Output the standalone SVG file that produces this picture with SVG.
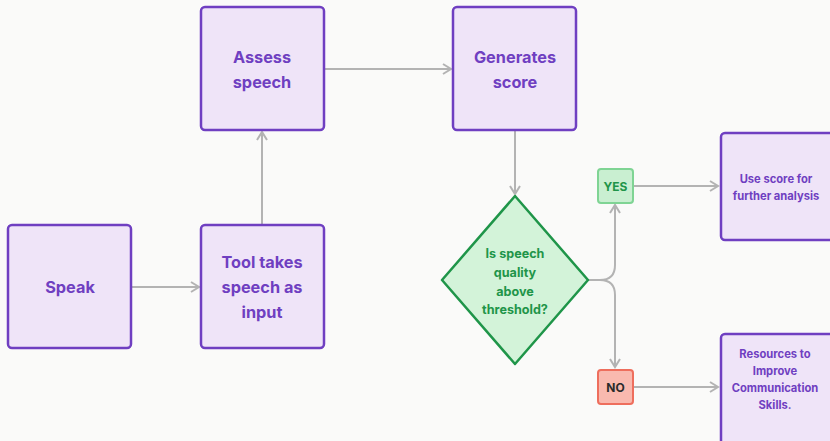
<svg xmlns="http://www.w3.org/2000/svg" width="830" height="441" viewBox="0 0 830 441">
<defs>
<style>
.box{fill:#efe4f8;stroke:#6f3fc1;stroke-width:2.5}
.bt{font-family:Inter,"Liberation Sans",sans-serif;font-weight:700;fill:#6f3fc1;text-anchor:middle;dominant-baseline:central}
.big{font-size:16.3px}
.sm{font-size:11.2px}
.conn{fill:none;stroke:#b3b3b3;stroke-width:2}
.dt{font-family:Inter,"Liberation Sans",sans-serif;font-weight:700;font-size:12.6px;fill:#1f9549;text-anchor:middle;dominant-baseline:central}
.tag{font-family:Inter,"Liberation Sans",sans-serif;font-weight:700;font-size:12px;text-anchor:middle;dominant-baseline:central}
</style>
<marker id="arr" viewBox="0 0 12 12" refX="10" refY="6" markerWidth="12" markerHeight="12" markerUnits="userSpaceOnUse" orient="auto">
<path d="M2,1 L10,6 L2,11" fill="none" stroke="#b3b3b3" stroke-width="2"/>
</marker>
</defs>
<rect width="830" height="441" fill="#fafaf9"/>
<g id="connectors">
<path class="conn" d="M132,287 H199" marker-end="url(#arr)"/>
<path class="conn" d="M262,224 V132" marker-end="url(#arr)"/>
<path class="conn" d="M325,69 H451" marker-end="url(#arr)"/>
<path class="conn" d="M515,131 V194" marker-end="url(#arr)"/>
<path class="conn" d="M588,280 H600 Q615,280 615,265 V205" marker-end="url(#arr)"/>
<path class="conn" d="M588,280 H600 Q615,280 615,295 V367" marker-end="url(#arr)"/>
<path class="conn" d="M634,186 H718" marker-end="url(#arr)"/>
<path class="conn" d="M634,387 H718" marker-end="url(#arr)"/>
</g>
<g id="speak">
<rect class="box" x="8" y="225" width="123" height="123" rx="4"/>
<text class="bt big" x="70" y="287">Speak</text>
</g>
<g id="tool">
<rect class="box" x="201" y="225" width="123" height="123" rx="4"/>
<text class="bt big" x="262" y="262">Tool takes</text>
<text class="bt big" x="262" y="287">speech as</text>
<text class="bt big" x="262" y="312">input</text>
</g>
<g id="assess">
<rect class="box" x="201" y="7" width="123" height="123" rx="4"/>
<text class="bt big" x="262" y="57">Assess</text>
<text class="bt big" x="262" y="82">speech</text>
</g>
<g id="generates">
<rect class="box" x="453" y="7" width="123" height="123" rx="4"/>
<text class="bt big" x="515" y="57">Generates</text>
<text class="bt big" x="515" y="82">score</text>
</g>
<g id="decision">
<path d="M515,196 L588,280 L515,364 L442,280 Z" fill="#d3f3d9" stroke="#1f9549" stroke-width="2.5" stroke-linejoin="round"/>
<text class="dt" x="515" y="253">Is speech</text>
<text class="dt" x="515" y="272">quality</text>
<text class="dt" x="515" y="291">above</text>
<text class="dt" x="515" y="309">threshold?</text>
</g>
<g id="yes">
<rect x="598" y="169" width="35" height="34" rx="3" fill="#c9efd1" stroke="#7fd494" stroke-width="2"/>
<text class="tag" x="615.5" y="186" fill="#1f9549">YES</text>
</g>
<g id="no">
<rect x="598" y="370" width="35" height="34" rx="3" fill="#f9b9af" stroke="#ee6e5d" stroke-width="2"/>
<text class="tag" x="615.5" y="387" fill="#2b2b2b">NO</text>
</g>
<g id="use-score">
<rect class="box" x="721" y="133" width="125" height="107" rx="4"/>
<text class="bt sm" x="776" y="179">Use score for</text>
<text class="bt sm" x="776" y="196">further analysis</text>
</g>
<g id="resources">
<rect class="box" x="721" y="334" width="125" height="120" rx="4"/>
<text class="bt sm" x="775" y="354">Resources  to</text>
<text class="bt sm" x="775" y="371">Improve</text>
<text class="bt sm" x="775" y="388">Communication</text>
<text class="bt sm" x="775" y="405">Skills.</text>
</g>
</svg>
